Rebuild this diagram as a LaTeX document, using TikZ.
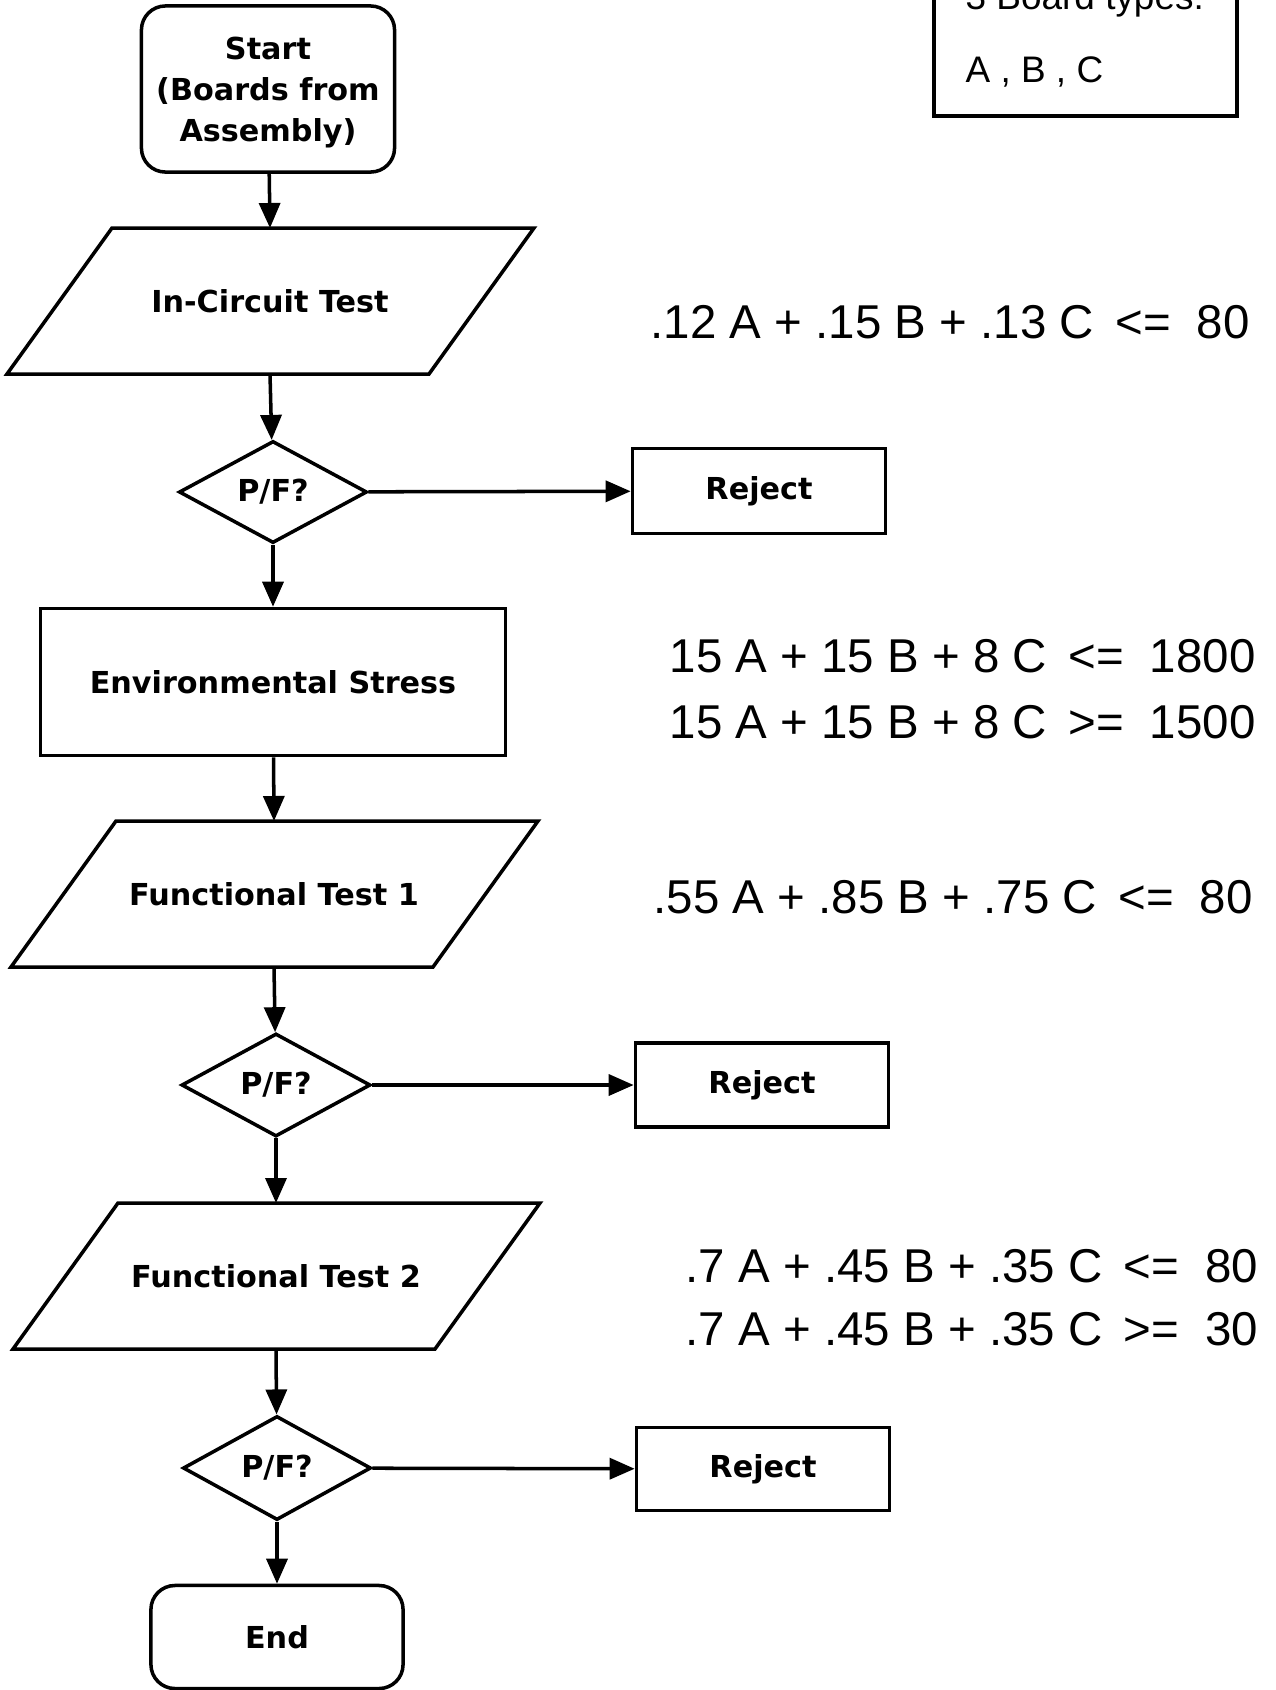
\documentclass[tikz,border=0pt]{standalone}
\usepackage{fontspec}
\setmainfont{Liberation Sans}
\newfontfamily\chartfont{DejaVu Sans}
\usetikzlibrary{arrows.meta,shapes.geometric}
\def\eqsize{\fontsize{13.5}{16}\selectfont}
\def\lblsize{\chartfont\bfseries\fontsize{8.6}{11.7}\selectfont}
\def\rel#1#2{\hspace{0.45em}#1\hspace{0.55em}#2}

\tikzset{
  shapeline/.style={line width=1pt},
  lbl/.style={inner sep=0pt, font=\lblsize},
  term/.style={draw, shapeline, rounded corners=0.24cm, align=center, inner sep=0pt, font=\lblsize},
  proc/.style={draw, shapeline, inner sep=0pt, font=\lblsize},
  test/.style={draw, shapeline, diamond, inner sep=0pt, font=\lblsize},
  flow/.style={line width=1pt, -{Triangle[length=0.25cm,width=0.21cm]}},
  eqn/.style={font=\eqsize, anchor=base west, inner sep=0pt},
}
% slanted input/output box: name, centre, text
\def\iobox(#1)(#2,#3)#4{%
  \node[lbl] (#1) at (#2,#3) {#4};
  \draw[shapeline] (#2,#3) ++(-158,-73) -- ++(422,0) -- ++(-105,146) -- ++(-422,0) -- cycle;
  \coordinate (#1-top) at (#2,#3-73);
  \coordinate (#1-bot) at (#2,#3+73);
}

\begin{document}
\begin{tikzpicture}[x=0.01cm, y=-0.01cm]
  %%%%% START %%%%%
  \useasboundingbox (0, 0) rectangle (1275, 1690);
  \clip (0, 0) rectangle (1275, 1690);

  % board types
  \draw[line width=1.15pt] (934, -40) rectangle (1237, 116);
  \node[font=\fontsize{10.5}{12}\selectfont, anchor=base west, inner sep=0pt] (types) at (965, 9) {3 Board types:};
  \node[font=\fontsize{10.5}{12}\selectfont, anchor=base west, inner sep=0pt] (abc) at (965, 82) {A , B , C};

  % flow chart
  \node[term, minimum width=2.53cm, minimum height=1.66cm, text depth=-0.06cm] (start) at (268, 89) {Start\\(Boards from\\Assembly)};
  \iobox(ict)(270,301){In-Circuit Test}
  \node[test, minimum width=1.88cm, minimum height=1.02cm] (pf1) at (273, 492) {P/F?};
  \node[proc, minimum width=2.53cm, minimum height=0.85cm] (rej1) at (759, 491) {Reject};
  \node[proc, minimum width=4.65cm, minimum height=1.47cm] (env) at (273, 682) {Environmental Stress};
  \iobox(ft1)(274,894){Functional Test 1}
  \node[test, minimum width=1.89cm, minimum height=1.03cm] (pf2) at (276, 1085) {P/F?};
  \node[proc, minimum width=2.53cm, minimum height=0.84cm] (rej2) at (762, 1085) {Reject};
  \iobox(ft2)(276,1276){Functional Test 2}
  \node[test, minimum width=1.88cm, minimum height=1.04cm] (pf3) at (277, 1468) {P/F?};
  \node[proc, minimum width=2.53cm, minimum height=0.83cm] (rej3) at (763, 1469) {Reject};
  \node[term, minimum width=2.52cm, minimum height=1.03cm] (end) at (277, 1637) {End};

  \draw[flow] (start) -- (ict-top);
  \draw[flow] (ict-bot) -- (pf1);
  \draw[flow] (pf1) -- (rej1);
  \draw[flow] (pf1) -- (env);
  \draw[flow] (env) -- (ft1-top);
  \draw[flow] (ft1-bot) -- (pf2);
  \draw[flow] (pf2) -- (rej2);
  \draw[flow] (pf2) -- (ft2-top);
  \draw[flow] (ft2-bot) -- (pf3);
  \draw[flow] (pf3) -- (rej3);
  \draw[flow] (pf3) -- (end);

  % constraints
  \node[eqn] (eq1) at (650, 338) {.12 A + .15 B + .13 C\rel{<=}{80}};
  \node[eqn] (eq2) at (669, 672) {15 A + 15 B + 8 C\rel{<=}{1800}};
  \node[eqn] (eq3) at (669, 738) {15 A + 15 B + 8 C\rel{>=}{1500}};
  \node[eqn] (eq4) at (653, 913) {.55 A + .85 B + .75 C\rel{<=}{80}};
  \node[eqn] (eq5) at (685, 1282) {.7 A + .45 B + .35 C\rel{<=}{80}};
  \node[eqn] (eq6) at (685, 1345) {.7 A + .45 B + .35 C\rel{>=}{30}};
  %%%%% END %%%%%
\end{tikzpicture}
\end{document}
